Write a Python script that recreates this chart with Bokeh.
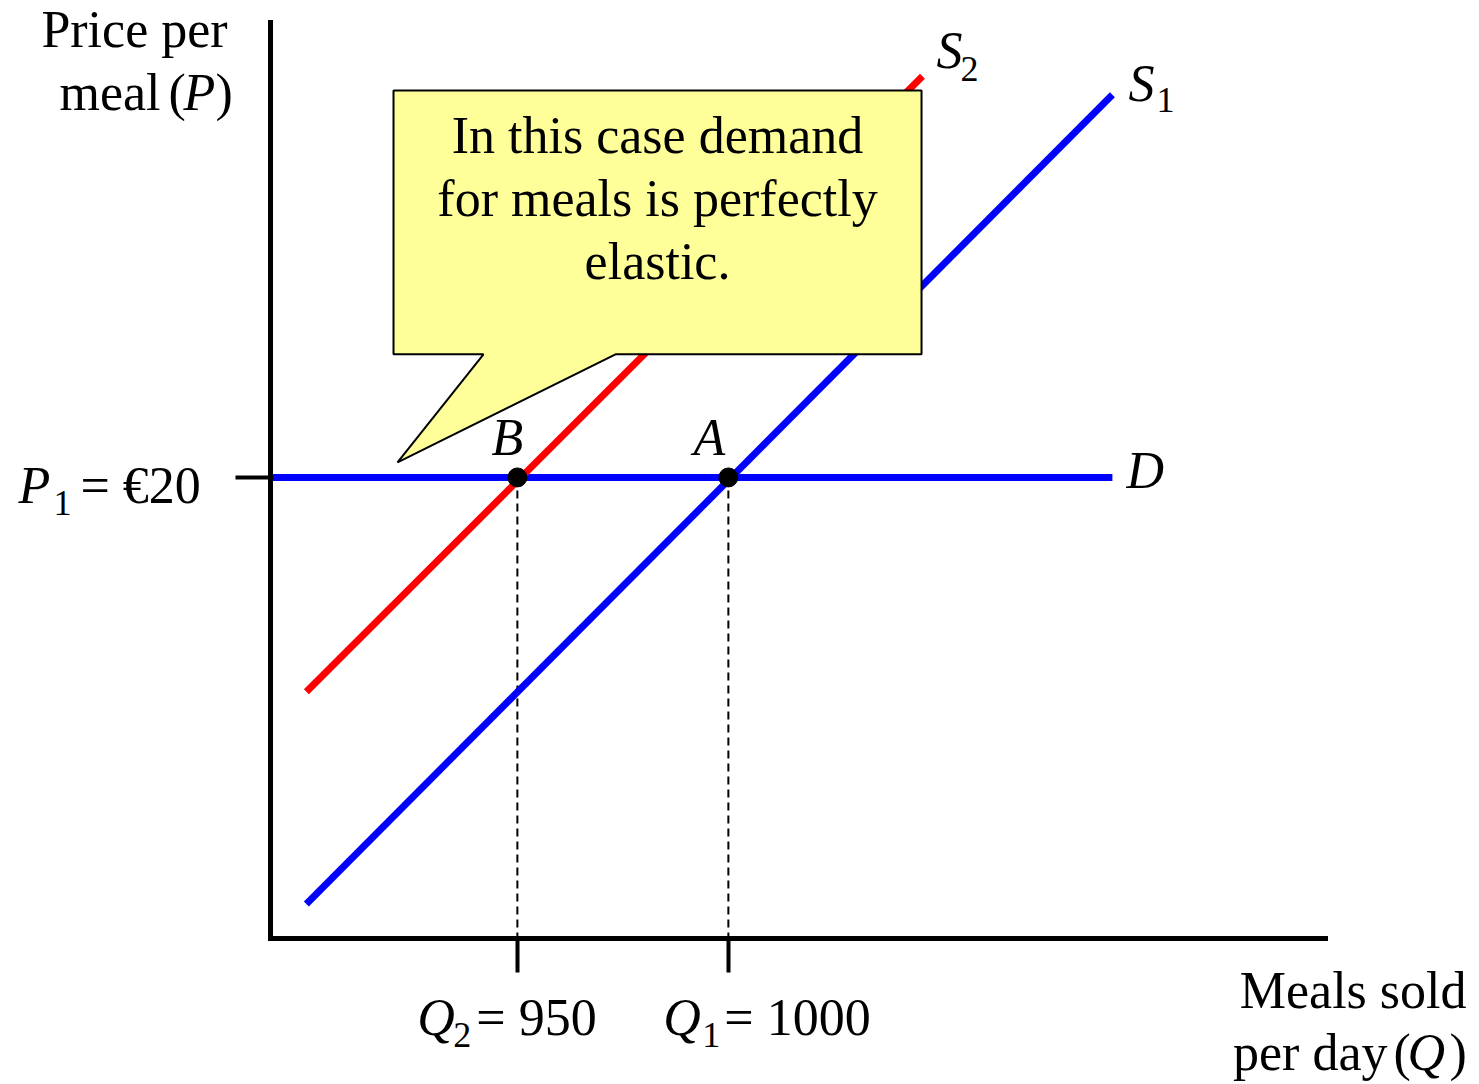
from bokeh.plotting import figure
from bokeh.models import Range1d, FixedTicker, Label, LinearAxis
from bokeh.embed import file_html
from bokeh.resources import INLINE

# ---- data ----
P1 = 20
Q1 = 1000
Q2 = 950
s1_q = [900, 1091]
s1_p = [1.5, 36.6]
s2_q = [900, 1046]
s2_p = [10.7, 37.4]
d_q = [891.5, 1091]
d_p = [20, 20]
eq_q = [Q2, Q1]
eq_p = [P1, P1]
q_axis = [891.5, 1141.5]     # extent of the quantity axis
p_axis = [0, 39.74]          # extent of the price axis
q_view = [827.52, 1177.99]
p_view = [-6.334, 40.69]
callout_lines = ["In this case demand", "for meals is perfectly", "elastic."]
# callout shape (data units)
box_q = [920.65, 1045.77]
box_p = [25.34, 36.79]
tail_q = [941.97, 921.6, 973.25]
tail_p = [25.34, 20.65, 25.34]

FONT = "Liberation Serif"
FS = 52
SUB = 36

p = figure(width=1479, height=1084,
           x_range=Range1d(*q_view), y_range=Range1d(*p_view),
           output_backend="svg", toolbar_location=None,
           x_axis_location=None, y_axis_location=None,
           min_border=0)
p.grid.visible = False
p.outline_line_color = None
p.background_fill_color = "white"
p.border_fill_color = "white"

xax = LinearAxis(fixed_location=p_axis[0], bounds=tuple(q_axis),
                 ticker=FixedTicker(ticks=eq_q),
                 major_label_overrides={Q2: "", Q1: ""})
yax = LinearAxis(fixed_location=q_axis[0], bounds=tuple(p_axis),
                 ticker=FixedTicker(ticks=[P1]),
                 major_label_overrides={P1: ""})
for ax in (xax, yax):
    ax.axis_line_width = 5
    ax.axis_line_color = "black"
    ax.axis_line_cap = "square"
    ax.major_tick_line_width = 4
    ax.major_tick_line_color = "black"
    ax.major_tick_in = 0
    ax.minor_tick_line_color = None
    ax.major_label_text_font_size = "0px"
xax.major_tick_out = 34
yax.major_tick_out = 35
p.add_layout(xax, "below")
p.add_layout(yax, "left")

# dashed guides
p.segment(x0=eq_q, y0=eq_p, x1=eq_q, y1=[p_axis[0], p_axis[0]],
          line_color="black", line_width=2, line_dash="8 5")
# curves
p.line(d_q, d_p, line_color="#0000FF", line_width=7)
p.line(s1_q, s1_p, line_color="#0000FF", line_width=7)
p.line(s2_q, s2_p, line_color="#FF0000", line_width=7)
# equilibrium points
p.scatter(eq_q, eq_p, size=19, color="black")

# callout
xs = [box_q[0], box_q[0], box_q[1], box_q[1], tail_q[2], tail_q[1], tail_q[0]]
ys = [box_p[0], box_p[1], box_p[1], box_p[0], tail_p[2], tail_p[1], tail_p[0]]
p.patch(xs, ys, fill_color="#FFFF99", line_color="black", line_width=2)


def lab(x, y, text, dx, dy, italic=False, size=FS, align="left"):
    p.add_layout(Label(x=x, y=y, text=text, x_offset=dx,
                       y_offset=dy + 0.35 * size,
                       text_font=FONT, text_font_size=f"{size}px",
                       text_font_style="italic" if italic else "normal",
                       text_align=align, text_baseline="alphabetic",
                       text_color="black"))


# callout text
bc = (box_q[0] + box_q[1]) / 2
for i, t in enumerate(callout_lines):
    lab(bc, box_p[1], t, 0, -63 - 63 * i, align="center")

# point labels
lab(Q1, P1, "A", -19, 22, italic=True, align="center")
lab(Q2, P1, "B", -10, 22, italic=True, align="center")
lab(d_q[1], d_p[1], "D", 14, -11, italic=True)
lab(s1_q[1], s1_p[1], "S", 16, -7, italic=True)
lab(s1_q[1], s1_p[1], "1", 44, -18, size=SUB)
lab(s2_q[1], s2_p[1], "S", 14, 8, italic=True)
lab(s2_q[1], s2_p[1], "2", 38, -5, size=SUB)

# axis titles
lab(q_axis[0], p_axis[1], "Price per", -136, -25, align="center")
lab(q_axis[0], p_axis[1], "meal", -110, -88, align="right")
lab(q_axis[0], p_axis[1], "(", -102, -88)
lab(q_axis[0], p_axis[1], "P", -87, -88, italic=True)
lab(q_axis[0], p_axis[1], ")", -55, -88)

lab(q_axis[1], p_axis[0], "Meals sold", 141, -70, align="right")
lab(q_axis[1], p_axis[0], "per day", 62, -132, align="right")
lab(q_axis[1], p_axis[0], "(", 68, -132)
lab(q_axis[1], p_axis[0], "Q", 82, -132, italic=True)
lab(q_axis[1], p_axis[0], ")", 124, -132)

# tick labels
lab(q_axis[0], P1, "P", -252, -26, italic=True)
lab(q_axis[0], P1, "1", -217, -38, size=SUB)
lab(q_axis[0], P1, "= \u20ac20", -190, -26)

lab(Q2, p_axis[0], "Q", -100, -97, italic=True)
lab(Q2, p_axis[0], "2", -64, -109, size=SUB)
lab(Q2, p_axis[0], "= 950", -41, -97)
lab(Q1, p_axis[0], "Q", -65, -97, italic=True)
lab(Q1, p_axis[0], "1", -26, -109, size=SUB)
lab(Q1, p_axis[0], "= 1000", -4, -97)

open("out.html", "w").write(file_html(p, INLINE))
